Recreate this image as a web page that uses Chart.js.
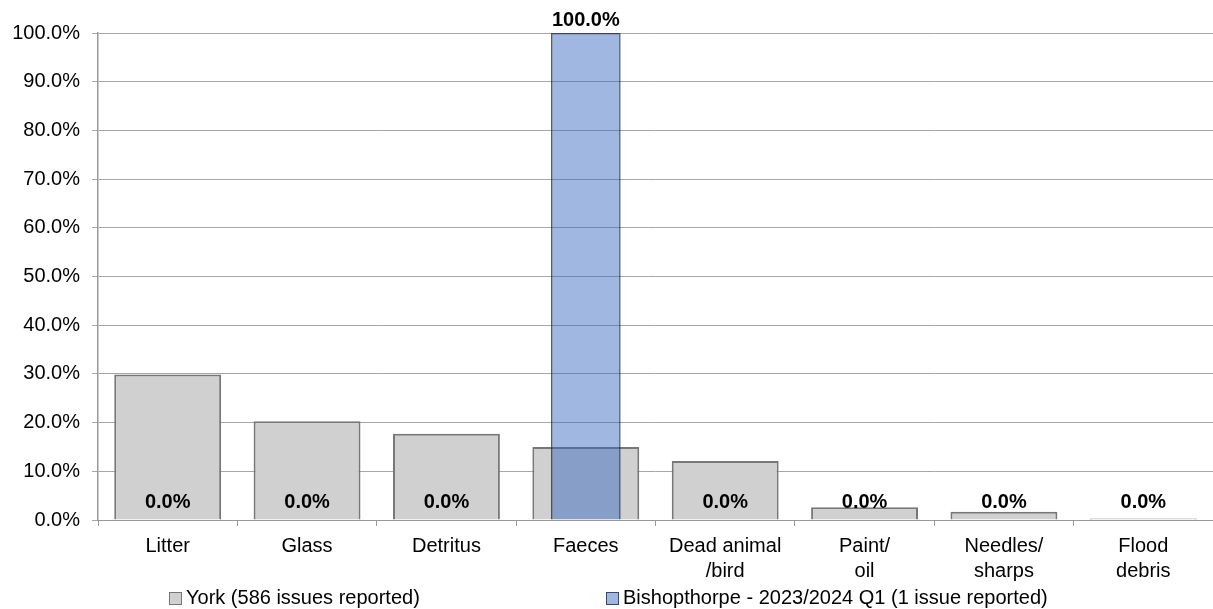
<!DOCTYPE html>
<html>
<head>
<meta charset="utf-8">
<script src="https://cdn.jsdelivr.net/npm/chart.js@4"></script>
<style>
    html, body { margin: 0; padding: 0; background: #fff; }
    #wrap { position: relative; width: 1213px; height: 609px; }
    #legend { position: absolute; left: 0; top: 585px; width: 1213px; height: 24px;
        font: 20px "Liberation Sans", Arial, sans-serif; color: #000; }
    .item { position: absolute; top: 0; white-space: nowrap; line-height: 24px; }
    .box { display: inline-block; width: 11px; height: 11px; margin-right: 4px; vertical-align: -1px; }
</style>
</head>
<body>
<div id="wrap">
    <canvas id="chart" width="1213" height="609"></canvas>
    <div id="legend"></div>
</div>
<script>
// categories and values (percent of issues)
const categories = [['Litter'], ['Glass'], ['Detritus'], ['Faeces'], ['Dead animal', '/bird'], ['Paint/', 'oil'], ['Needles/', 'sharps'], ['Flood', 'debris']];
const yorkLabel = 'York (586 issues reported)';
const yorkValues = [29.9, 20.3, 17.7, 15.0, 12.1, 2.6, 1.7, 0.3];
const bishopLabel = 'Bishopthorpe - 2023/2024 Q1 (1 issue reported)';
const bishopValues = [0, 0, 0, 100, 0, 0, 0, 0];
const yTicks = [0, 10, 20, 30, 40, 50, 60, 70, 80, 90, 100];

const FONT = '"Liberation Sans", Arial, sans-serif';
const yorkFill = '#d0d0d0';
const yorkBorder = '#777777';
const bishopFill = 'rgba(53, 104, 191, 0.47)';
const bishopBorder = 'rgba(25, 35, 65, 0.75)';

// bold value labels above the Bishopthorpe bars
const valueLabels = {
    id: 'valueLabels',
    afterDatasetsDraw(chart) {
        const ctx = chart.ctx;
        const meta = chart.getDatasetMeta(1);
        ctx.save();
        ctx.font = 'bold 20px ' + FONT;
        ctx.fillStyle = '#000';
        ctx.textAlign = 'center';
        ctx.textBaseline = 'alphabetic';
        meta.data.forEach((bar, i) => {
            const y = Math.max(bar.y - 12, 26);
            ctx.fillText(bishopValues[i].toFixed(1) + '%', bar.x, y);
        });
        ctx.restore();
    }
};

new Chart(document.getElementById('chart'), {
    type: 'bar',
    data: {
        labels: categories,
        datasets: [{
            label: yorkLabel,
            data: yorkValues,
            backgroundColor: yorkFill,
            borderColor: yorkBorder,
            borderWidth: 2,
            barPercentage: 0.767,
            categoryPercentage: 1,
            grouped: false,
            order: 2
        }, {
            label: bishopLabel,
            data: bishopValues,
            backgroundColor: bishopFill,
            borderColor: bishopBorder,
            borderWidth: 1.5,
            barPercentage: 0.5,
            categoryPercentage: 1,
            grouped: false,
            order: 1
        }]
    },
    options: {
        responsive: false,
        animation: false,
        layout: { padding: { top: 33, right: 0, bottom: 0, left: 0 } },
        plugins: {
            legend: { display: false },
            tooltip: { enabled: false }
        },
        scales: {
            x: {
                afterFit: scale => { scale.height = 89; },
                grid: { offset: true, drawOnChartArea: false, drawTicks: true, tickLength: 6, color: '#999999' },
                border: { display: true, color: '#999999', width: 1 },
                ticks: { color: '#000', font: { family: FONT, size: 20, lineHeight: 1.25 }, padding: 8, maxRotation: 0, autoSkip: false }
            },
            y: {
                min: 0,
                max: 100,
                afterFit: scale => { scale.width = 98; },
                afterBuildTicks: scale => { scale.ticks = yTicks.map(v => ({ value: v })); },
                grid: { color: '#a6a6a6', drawTicks: true, tickLength: 6 },
                border: { display: true, color: '#999999', width: 1.5 },
                ticks: { color: '#000', font: { family: FONT, size: 20 }, padding: 12, callback: v => v.toFixed(1) + '%' }
            }
        }
    },
    plugins: [valueLabels]
});

// legend under the chart
const legend = document.getElementById('legend');
[[yorkLabel, yorkFill, yorkBorder, 169], [bishopLabel, bishopFill, bishopBorder, 606]].forEach(([text, fill, border, left]) => {
    const item = document.createElement('div');
    item.className = 'item';
    item.style.left = left + 'px';
    const box = document.createElement('span');
    box.className = 'box';
    box.style.background = fill;
    box.style.border = '1px solid ' + border;
    item.appendChild(box);
    item.appendChild(document.createTextNode(text));
    legend.appendChild(item);
});
</script>
</body>
</html>
